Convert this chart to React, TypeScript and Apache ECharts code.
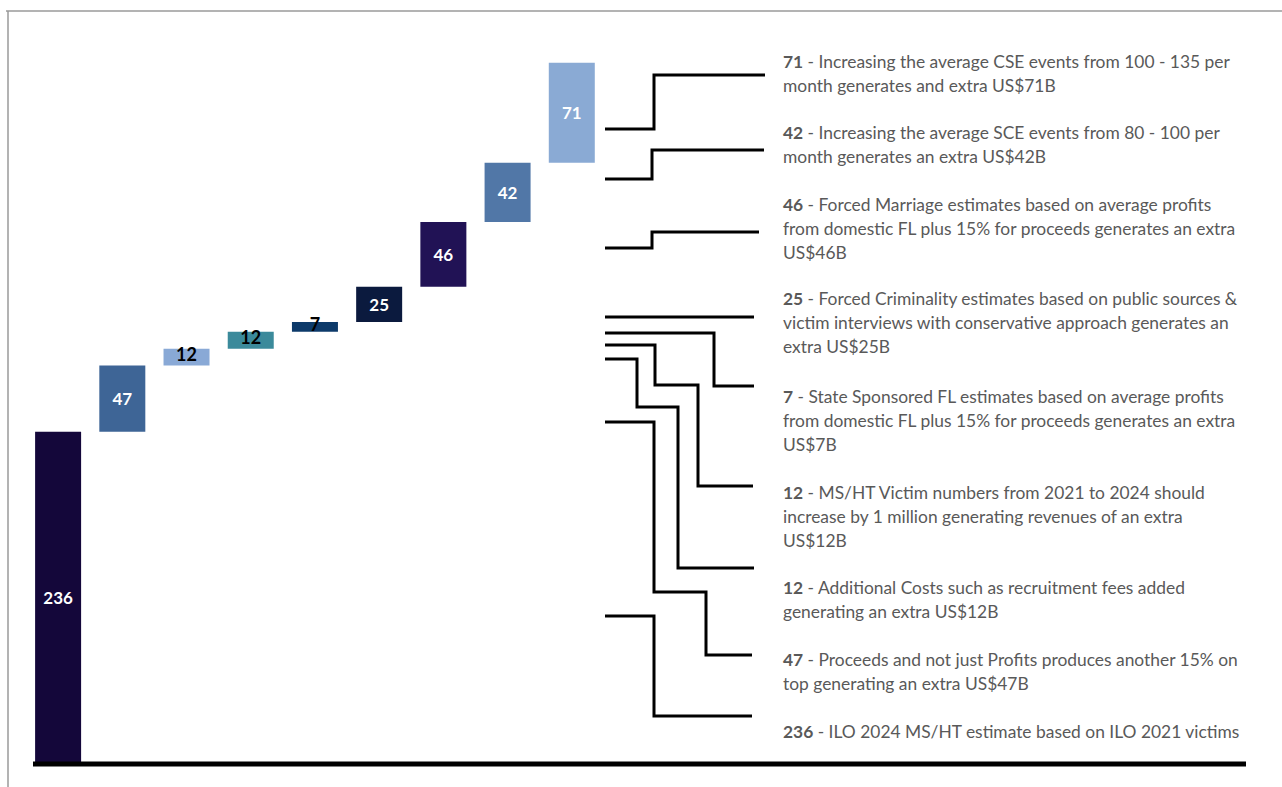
import React, { useEffect, useRef } from "react";
import * as echarts from "echarts";

const categories = [
  "ILO 2024 MS/HT estimate",
  "Proceeds not just Profits",
  "Additional Costs",
  "MS/HT Victim numbers",
  "State Sponsored FL",
  "Forced Criminality",
  "Forced Marriage",
  "SCE events",
  "CSE events",
];
const values = [236, 47, 12, 12, 7, 25, 46, 42, 71];
const barColors = [
  "#14073a",
  "#3e6596",
  "#89a9d6",
  "#3b8a9b",
  "#0d3a6a",
  "#0b1a3e",
  "#211255",
  "#5177a7",
  "#8aaad4",
];
const labelColors = ["#ffffff", "#ffffff", "#000000", "#000000", "#000000", "#ffffff", "#ffffff", "#ffffff", "#ffffff"];

const notes: [string, string][] = [
  ["71", " - Increasing the average CSE events from 100 - 135 per\nmonth generates and extra US$71B"],
  ["42", " - Increasing the average SCE events from 80 - 100 per\nmonth generates an extra US$42B"],
  ["46", " - Forced Marriage estimates based on average profits\nfrom domestic FL plus 15% for proceeds generates an extra\nUS$46B"],
  ["25", " - Forced Criminality estimates based on public sources &\nvictim interviews with conservative approach generates an\nextra US$25B"],
  ["7", " - State Sponsored FL estimates based on average profits\nfrom domestic FL plus 15% for proceeds generates an extra\nUS$7B"],
  ["12", " - MS/HT Victim numbers from 2021 to 2024 should\nincrease by 1 million generating revenues of an extra\nUS$12B"],
  ["12", " - Additional Costs such as recruitment fees added\ngenerating an extra US$12B"],
  ["47", " - Proceeds and not just Profits produces another 15% on\ntop generating an extra US$47B"],
  ["236", " - ILO 2024 MS/HT estimate based on ILO 2021 victims"],
];
const noteY = [61, 132, 204, 298, 396, 492, 587, 659, 731];

const connectors: number[][][] = [
  [[605, 129], [654, 129], [654, 75], [765, 75]],
  [[605, 179], [652, 179], [652, 150], [764, 150]],
  [[605, 248], [652, 248], [652, 232], [759, 232]],
  [[605, 317], [754, 317]],
  [[605, 333], [714, 333], [714, 386], [754, 386]],
  [[605, 345], [655, 345], [655, 385], [698, 385], [698, 486], [753, 486]],
  [[605, 359], [637, 359], [637, 407], [678, 407], [678, 568], [754, 568]],
  [[605, 422], [654, 422], [654, 592], [706, 592], [706, 655], [752, 655]],
  [[605, 616], [654, 616], [654, 716], [752, 716]],
];

const FONT = "Lato";
const NOTE_SIZE = 17.4;

export default function App() {
  const ref = useRef<HTMLDivElement>(null);
  useEffect(() => {
    if (!ref.current) return;
    const chart = echarts.init(ref.current, undefined, { renderer: "svg" });
    const bases: number[] = [];
    let acc = 0;
    values.forEach((v) => {
      bases.push(acc);
      acc += v;
    });

    const graphics: any[] = [
      { type: "line", shape: { x1: 6, y1: 11, x2: 1282, y2: 11 }, style: { stroke: "#9a9a9a", lineWidth: 1.5 } },
      { type: "line", shape: { x1: 8, y1: 11, x2: 8, y2: 787 }, style: { stroke: "#9a9a9a", lineWidth: 1.5 } },
      { type: "line", shape: { x1: 33, y1: 764, x2: 1246, y2: 764 }, style: { stroke: "#000000", lineWidth: 5 }, z: 20 },
    ];
    connectors.forEach((pts) => {
      graphics.push({
        type: "polyline",
        shape: { points: pts },
        style: { stroke: "#000000", lineWidth: 3, fill: "none" },
        z: 10,
      });
    });
    notes.forEach(([n, t], i) => {
      graphics.push({
        type: "text",
        x: 783,
        y: noteY[i] - 12,
        style: {
          text: `{b|${n}}` + t.split("\n").map((l) => `{r|${l}}`).join("\n"),
          rich: {
            b: { fontWeight: "bold", fontSize: NOTE_SIZE, fontFamily: FONT, fill: "#595959", lineHeight: 24 },
            r: { fontSize: NOTE_SIZE, fontFamily: FONT, fill: "#595959", lineHeight: 24 },
          },
          verticalAlign: "top",
          align: "left",
        },
        z: 10,
      });
    });

    chart.setOption({
      animation: false,
      grid: { left: 26, right: 36, top: 60, bottom: 23, containLabel: false },
      xAxis: {
        type: "category",
        data: categories,
        max: 18,
        axisLine: { show: false },
        axisTick: { show: false },
        axisLabel: { show: false },
        splitLine: { show: false },
      },
      yAxis: {
        type: "value",
        min: 0,
        max: 500,
        show: false,
        splitLine: { show: false },
      },
      series: [
        {
          type: "bar",
          stack: "wf",
          data: bases,
          barWidth: 46,
          itemStyle: { color: "transparent" },
          silent: true,
        },
        {
          type: "bar",
          stack: "wf",
          barWidth: 46,
          data: values.map((v, i) => ({
            value: v,
            itemStyle: { color: barColors[i] },
            label: {
              show: true,
              color: labelColors[i],
              position: i === 4 ? "insideTop" : "inside",
              offset: i === 4 ? [0, -12] : i === 2 || i === 3 ? [0, -3] : [0, 0],
              fontSize: i >= 2 && i <= 4 ? 18 : 17,
            },
          })),
          label: {
            show: true,
            fontFamily: FONT,
            fontWeight: "bold",
            fontSize: 17,
          },
        },
      ],
      graphic: graphics,
    });
    return () => chart.dispose();
  }, []);
  return <div ref={ref} style={{ position: "fixed", left: 0, top: 0, width: 1282, height: 787, background: "#fff" }} />;
}
